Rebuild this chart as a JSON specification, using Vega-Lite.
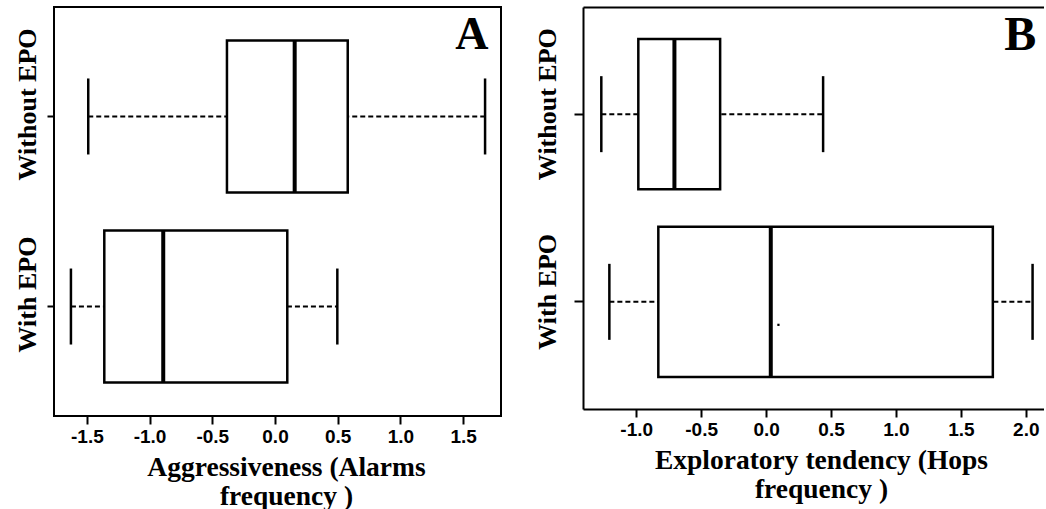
{
  "$schema": "https://vega.github.io/schema/vega-lite/v6.json",
  "background": "white",
  "padding": {"left": 12, "top": 6, "right": 0, "bottom": 0},
  "config": {
    "view": {"stroke": null},
    "concat": {"spacing": 31},
    "tick": {"opacity": 1},
    "axis": {
      "grid": false,
      "domainColor": "black",
      "domainWidth": 2,
      "tickColor": "black",
      "tickWidth": 2,
      "tickSize": 8,
      "labelColor": "black",
      "titleColor": "black"
    }
  },
  "datasets": {
    "stats": [
      {"panel": "A", "group": "Without EPO", "lo": -1.489, "q1": -0.383, "med": 0.157, "q3": 0.58, "hi": 1.675},
      {"panel": "A", "group": "With EPO", "lo": -1.627, "q1": -1.361, "med": -0.891, "q3": 0.098, "hi": 0.497},
      {"panel": "B", "group": "Without EPO", "lo": -1.269, "q1": -0.984, "med": -0.706, "q3": -0.354, "hi": 0.439},
      {"panel": "B", "group": "With EPO", "lo": -1.207, "q1": -0.83, "med": 0.036, "q3": 1.746, "hi": 2.052}
    ],
    "dots": [
      {"panel": "B", "group": "With EPO", "x": 0.095}
    ]
  },
  "hconcat": [
    {
      "width": 447,
      "height": 409,
      "view": {"stroke": "black", "strokeWidth": 2},
      "data": {"name": "stats"},
      "transform": [{"filter": "datum.panel === 'A'"}],
      "encoding": {
        "y": {
          "field": "group",
          "type": "nominal",
          "scale": {"domain": ["Without EPO", "With EPO"], "paddingInner": 0.2, "paddingOuter": 0.176},
          "axis": {
            "title": null,
            "domain": false,
            "labelAngle": -90,
            "labelAlign": "center",
            "labelBaseline": "bottom",
            "labelFont": "Liberation Serif",
            "labelFontWeight": "bold",
            "labelFontSize": 26,
            "labelPadding": 7,
            "labelOffset": -12,
            "tickSize": 7
          }
        }
      },
      "resolve": {"axis": {"x": "independent"}},
      "layer": [
        {
          "mark": {"type": "rule", "color": "black", "strokeWidth": 2, "strokeDash": [5, 3]},
          "encoding": {
            "x": {
              "field": "lo",
              "type": "quantitative",
              "scale": {"domain": [-1.762, 1.802], "nice": false, "zero": false},
              "axis": {
                "title": ["Aggressiveness (Alarms", "frequency )"],
                "values": [-1.5, -1, -0.5, 0, 0.5, 1, 1.5],
                "labelExpr": "replace(format(datum.value, '.1f'), '\u2212', '-')",
                "domain": false,
                "labelFont": "Liberation Sans",
                "labelFontWeight": "bold",
                "labelFontSize": 19,
                "labelPadding": 3,
                "labelFlush": false,
                "titleFont": "Liberation Serif",
                "titleFontWeight": "bold",
                "titleFontSize": 27.5,
                "titleLineHeight": 29,
                "titlePadding": 7,
                "titleX": 232
              }
            },
            "x2": {"field": "hi"}
          }
        },
        {
          "mark": {"type": "bar", "fill": "white", "stroke": "black", "strokeWidth": 2.5},
          "encoding": {
            "x": {"field": "q1", "type": "quantitative", "axis": null},
            "x2": {"field": "q3"}
          }
        },
        {
          "mark": {"type": "tick", "color": "black", "opacity": 1, "thickness": 4, "size": 152},
          "encoding": {"x": {"field": "med", "type": "quantitative", "axis": null}}
        },
        {
          "mark": {"type": "tick", "color": "black", "opacity": 1, "thickness": 2.5, "size": 76},
          "encoding": {"x": {"field": "lo", "type": "quantitative", "axis": null}}
        },
        {
          "mark": {"type": "tick", "color": "black", "opacity": 1, "thickness": 2.5, "size": 76},
          "encoding": {"x": {"field": "hi", "type": "quantitative", "axis": null}}
        },
        {
          "data": {"values": [{"label": "A", "x": 1.57, "group": "Without EPO"}]},
          "mark": {"type": "text", "font": "Liberation Serif", "fontWeight": "bold", "fontSize": 46, "align": "center", "baseline": "alphabetic", "dy": -67, "color": "black"},
          "encoding": {
            "x": {"field": "x", "type": "quantitative", "axis": null},
            "text": {"field": "label"}
          }
        }
      ]
    },
    {
      "width": 461,
      "height": 402,
      "data": {"name": "stats"},
      "transform": [{"filter": "datum.panel === 'B'"}],
      "encoding": {
        "y": {
          "field": "group",
          "type": "nominal",
          "scale": {"domain": ["Without EPO", "With EPO"], "paddingInner": 0.2, "paddingOuter": 0.171},
          "axis": {
            "title": null,
            "domain": true,
            "labelAngle": -90,
            "labelAlign": "center",
            "labelBaseline": "bottom",
            "labelFont": "Liberation Serif",
            "labelFontWeight": "bold",
            "labelFontSize": 26,
            "labelPadding": 14,
            "labelOffset": -10,
            "tickSize": 9
          }
        }
      },
      "resolve": {"axis": {"x": "independent"}},
      "layer": [
        {
          "mark": {"type": "rule", "color": "black", "strokeWidth": 2, "strokeDash": [5, 3]},
          "encoding": {
            "x": {
              "field": "lo",
              "type": "quantitative",
              "scale": {"domain": [-1.41, 2.14], "nice": false, "zero": false},
              "axis": {
                "title": ["Exploratory tendency (Hops", "frequency )"],
                "values": [-1, -0.5, 0, 0.5, 1, 1.5, 2],
                "labelExpr": "replace(format(datum.value, '.1f'), '\u2212', '-')",
                "domain": true,
                "labelFont": "Liberation Sans",
                "labelFontWeight": "bold",
                "labelFontSize": 19,
                "labelPadding": 3,
                "labelFlush": false,
                "titleFont": "Liberation Serif",
                "titleFontWeight": "bold",
                "titleFontSize": 27.5,
                "titleLineHeight": 29,
                "titlePadding": 7,
                "titleX": 238
              }
            },
            "x2": {"field": "hi"}
          }
        },
        {
          "mark": {"type": "bar", "fill": "white", "stroke": "black", "strokeWidth": 2.5},
          "encoding": {
            "x": {"field": "q1", "type": "quantitative", "axis": null},
            "x2": {"field": "q3"}
          }
        },
        {
          "mark": {"type": "tick", "color": "black", "opacity": 1, "thickness": 4, "size": 150},
          "encoding": {
            "x": {
              "field": "med",
              "type": "quantitative",
              "axis": {"orient": "top", "labels": false, "ticks": false, "title": null, "domain": true}
            }
          }
        },
        {
          "mark": {"type": "tick", "color": "black", "opacity": 1, "thickness": 2.5, "size": 76},
          "encoding": {"x": {"field": "lo", "type": "quantitative", "axis": null}}
        },
        {
          "mark": {"type": "tick", "color": "black", "opacity": 1, "thickness": 2.5, "size": 76},
          "encoding": {"x": {"field": "hi", "type": "quantitative", "axis": null}}
        },
        {
          "data": {"name": "dots"},
          "mark": {"type": "square", "color": "black", "size": 5, "yOffset": 23, "opacity": 1},
          "encoding": {"x": {"field": "x", "type": "quantitative", "axis": null}}
        },
        {
          "data": {"values": [{"label": "B", "x": 1.957, "group": "Without EPO"}]},
          "mark": {"type": "text", "font": "Liberation Serif", "fontWeight": "bold", "fontSize": 48, "align": "center", "baseline": "alphabetic", "dy": -64, "color": "black"},
          "encoding": {
            "x": {"field": "x", "type": "quantitative", "axis": null},
            "text": {"field": "label"}
          }
        }
      ]
    }
  ]
}
